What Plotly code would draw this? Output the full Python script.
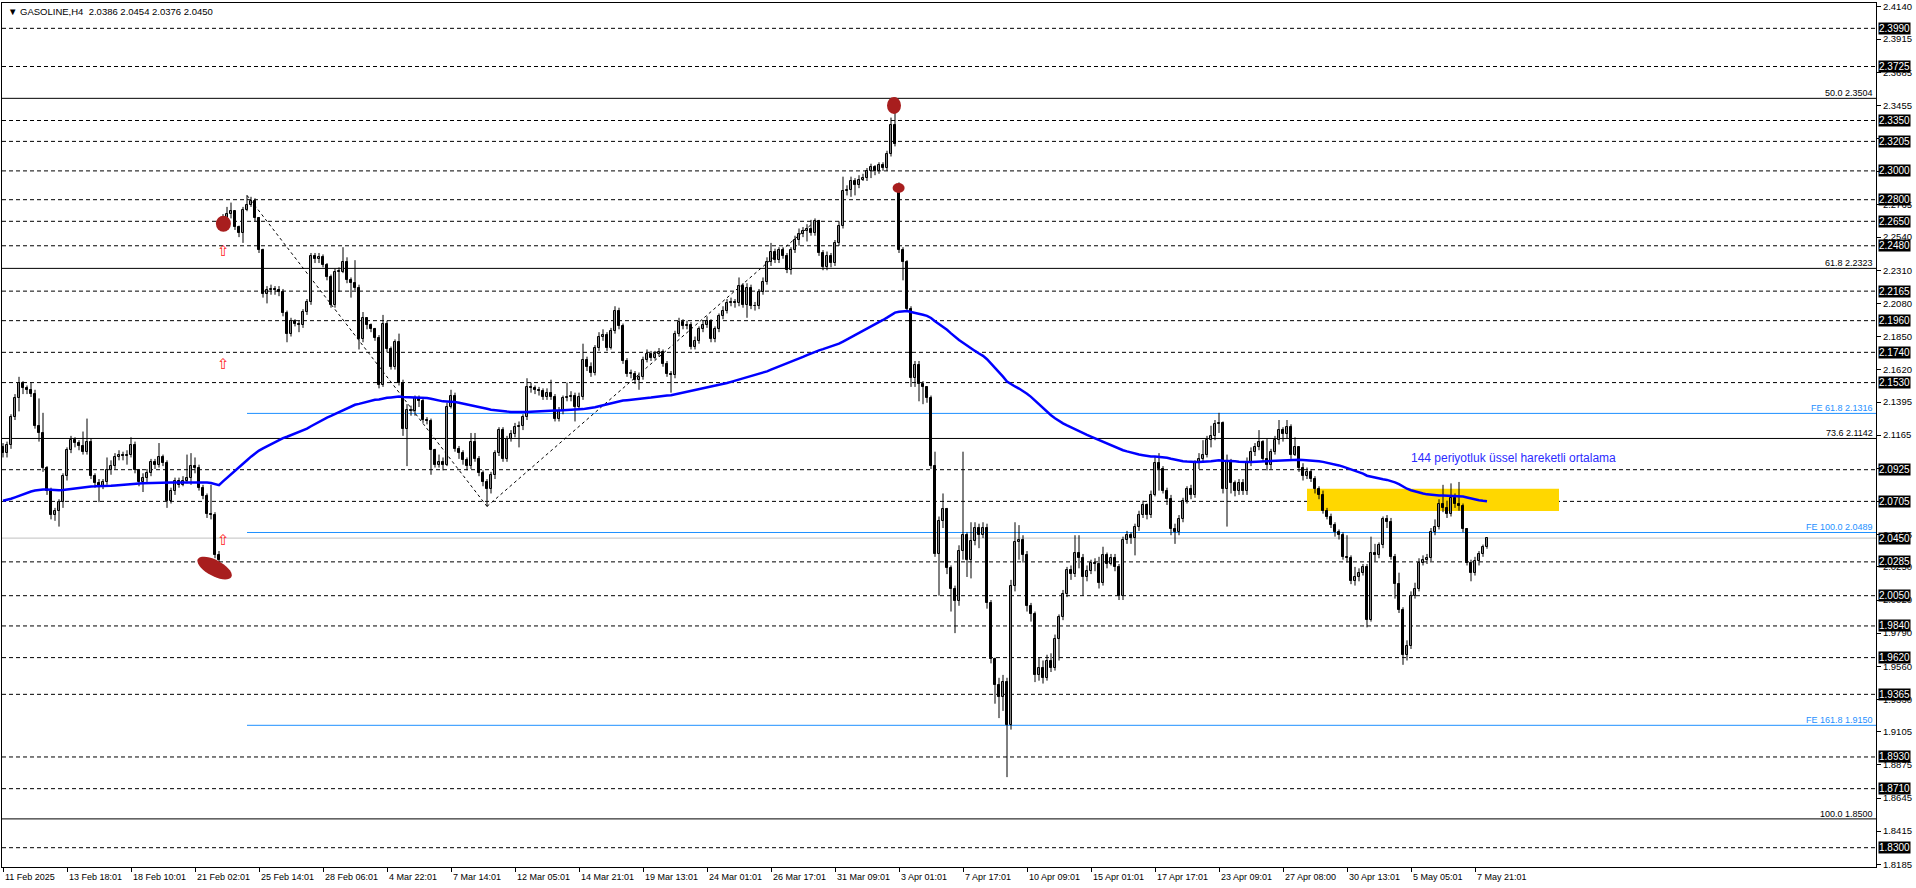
import plotly.graph_objects as go
import math

# ---------------- data ----------------
symbol_header = "\u25BC GASOLINE,H4  2.0386 2.0454 2.0376 2.0450"

first_open = 2.108
gap_opens = {55: 2.266, 224: 2.290}

closes = [
    2.104, 2.110, 2.129, 2.142, 2.153, 2.149, 2.148, 2.145, 2.123, 2.118,
    2.094, 2.078, 2.061, 2.064, 2.070, 2.088, 2.106, 2.113, 2.111, 2.109,
    2.105, 2.112, 2.088, 2.083, 2.081, 2.084, 2.092, 2.095, 2.101, 2.103,
    2.102, 2.103, 2.110, 2.092, 2.084, 2.087, 2.090, 2.098, 2.096, 2.101,
    2.097, 2.071, 2.078, 2.085, 2.082, 2.085, 2.087, 2.095, 2.094, 2.080,
    2.074, 2.062, 2.061, 2.033, 2.030, 2.267, 2.270, 2.272, 2.261, 2.257,
    2.273, 2.276, 2.279, 2.267, 2.245, 2.2145, 2.217, 2.218, 2.217, 2.216,
    2.201, 2.187, 2.196, 2.194, 2.193, 2.202, 2.209, 2.241, 2.239, 2.240,
    2.235, 2.226, 2.207, 2.230, 2.230, 2.237, 2.224, 2.222, 2.219, 2.183,
    2.198, 2.193, 2.190, 2.184, 2.151, 2.194, 2.176, 2.164, 2.181, 2.153,
    2.121, 2.134, 2.133, 2.142, 2.140, 2.127, 2.126, 2.106, 2.096, 2.098,
    2.096, 2.136, 2.144, 2.107, 2.104, 2.099, 2.095, 2.112, 2.100, 2.090,
    2.084, 2.079, 2.089, 2.104, 2.120, 2.100, 2.114, 2.117, 2.122, 2.123,
    2.129, 2.150, 2.149, 2.148, 2.147, 2.143, 2.146, 2.143, 2.128, 2.133,
    2.142, 2.143, 2.144, 2.136, 2.143, 2.169, 2.164, 2.160, 2.177, 2.185,
    2.186, 2.177, 2.189, 2.203, 2.192, 2.168, 2.159, 2.159, 2.155, 2.157,
    2.169, 2.173, 2.170, 2.173, 2.174, 2.166, 2.159, 2.158, 2.187, 2.195,
    2.192, 2.193, 2.178, 2.182, 2.190, 2.193, 2.196, 2.183, 2.190, 2.199,
    2.203, 2.208, 2.209, 2.208, 2.220, 2.207, 2.219, 2.206, 2.206, 2.216,
    2.223, 2.237, 2.244, 2.238, 2.245, 2.241, 2.231, 2.245, 2.252, 2.256,
    2.258, 2.260, 2.257, 2.265, 2.243, 2.233, 2.241, 2.236, 2.250, 2.262,
    2.286, 2.287, 2.293, 2.290, 2.294, 2.295, 2.300, 2.303, 2.300, 2.304,
    2.302, 2.312, 2.332, 2.319, 2.245, 2.237, 2.204, 2.156, 2.165, 2.152,
    2.150, 2.142, 2.095, 2.034, 2.057, 2.065, 2.024, 2.010, 2.001, 2.036,
    2.047, 2.030, 2.043, 2.052, 2.047, 2.052, 2.000, 1.961, 1.943, 1.935,
    1.945, 1.915, 2.012, 2.042, 2.044, 2.033, 1.998, 1.992, 1.950, 1.955,
    1.948, 1.960, 1.955, 1.975, 1.990, 2.006, 2.023, 2.020, 2.035, 2.031,
    2.018, 2.022, 2.028, 2.027, 2.014, 2.033, 2.027, 2.031, 2.025, 2.005,
    2.044, 2.047, 2.045, 2.053, 2.061, 2.068, 2.061, 2.075, 2.097, 2.093,
    2.078, 2.072, 2.051, 2.049, 2.058, 2.071, 2.079, 2.075, 2.097, 2.100,
    2.103, 2.113, 2.116, 2.124, 2.125, 2.079, 2.098, 2.083, 2.078, 2.083,
    2.078, 2.098, 2.105, 2.108, 2.112, 2.100, 2.096, 2.105, 2.113, 2.120,
    2.117, 2.122, 2.103, 2.108, 2.094, 2.088, 2.091, 2.086, 2.079, 2.075,
    2.064, 2.060, 2.054, 2.049, 2.047, 2.032, 2.031, 2.015, 2.018, 2.021,
    2.025, 1.988, 2.035, 2.033, 2.040, 2.058, 2.056, 2.032, 2.013, 1.995,
    1.964, 1.970, 2.005, 2.010, 2.028, 2.030, 2.031, 2.049, 2.053, 2.069,
    2.066, 2.062, 2.073, 2.069, 2.067, 2.051, 2.028, 2.021, 2.029, 2.034,
    2.0386, 2.0450,
]

highs = [
    2.111, 2.112, 2.131, 2.145, 2.157, 2.154, 2.151, 2.153, 2.148, 2.142,
    2.132, 2.095, 2.080, 2.066, 2.072, 2.090, 2.108, 2.116, 2.115, 2.113,
    2.119, 2.128, 2.114, 2.090, 2.086, 2.086, 2.101, 2.099, 2.104, 2.106,
    2.105, 2.106, 2.115, 2.112, 2.093, 2.090, 2.093, 2.100, 2.100, 2.111,
    2.103, 2.099, 2.080, 2.087, 2.087, 2.088, 2.103, 2.104, 2.101, 2.096,
    2.082, 2.076, 2.082, 2.063, 2.036, 2.270, 2.275, 2.278, 2.272, 2.262,
    2.275, 2.283, 2.282, 2.281, 2.268, 2.246, 2.220, 2.221, 2.220, 2.220,
    2.218, 2.203, 2.198, 2.197, 2.196, 2.204, 2.211, 2.243, 2.243, 2.243,
    2.242, 2.236, 2.228, 2.232, 2.233, 2.247, 2.240, 2.226, 2.238, 2.221,
    2.202, 2.198, 2.194, 2.191, 2.186, 2.200, 2.196, 2.178, 2.183, 2.187,
    2.155, 2.138, 2.137, 2.144, 2.144, 2.143, 2.129, 2.128, 2.107, 2.103,
    2.101, 2.139, 2.148, 2.146, 2.109, 2.106, 2.101, 2.118, 2.118, 2.102,
    2.092, 2.086, 2.091, 2.106, 2.122, 2.122, 2.116, 2.120, 2.125, 2.126,
    2.131, 2.156, 2.153, 2.151, 2.150, 2.149, 2.149, 2.155, 2.145, 2.136,
    2.144, 2.153, 2.147, 2.146, 2.146, 2.180, 2.171, 2.167, 2.179, 2.188,
    2.190, 2.188, 2.191, 2.206, 2.205, 2.194, 2.170, 2.162, 2.161, 2.160,
    2.171, 2.176, 2.175, 2.175, 2.177, 2.176, 2.168, 2.161, 2.189, 2.198,
    2.197, 2.196, 2.195, 2.185, 2.192, 2.196, 2.199, 2.197, 2.192, 2.201,
    2.206, 2.211, 2.212, 2.211, 2.226, 2.222, 2.222, 2.221, 2.209, 2.218,
    2.226, 2.240, 2.250, 2.246, 2.247, 2.247, 2.243, 2.247, 2.255, 2.260,
    2.261, 2.263, 2.266, 2.267, 2.266, 2.245, 2.244, 2.243, 2.252, 2.265,
    2.296, 2.290, 2.296, 2.295, 2.297, 2.298, 2.302, 2.305, 2.304, 2.306,
    2.306, 2.314, 2.337, 2.351, 2.292, 2.247, 2.238, 2.206, 2.168, 2.168,
    2.154, 2.150, 2.144, 2.105, 2.060, 2.076, 2.066, 2.026, 2.012, 2.040,
    2.105, 2.049, 2.056, 2.056, 2.055, 2.056, 2.055, 2.002, 1.962, 1.948,
    1.950, 1.948, 2.016, 2.056, 2.054, 2.047, 2.036, 2.000, 1.994, 1.962,
    1.960, 1.964, 1.965, 1.978, 1.992, 2.009, 2.025, 2.026, 2.047, 2.047,
    2.034, 2.026, 2.030, 2.031, 2.032, 2.039, 2.035, 2.034, 2.034, 2.027,
    2.046, 2.050, 2.049, 2.055, 2.064, 2.071, 2.069, 2.078, 2.102, 2.104,
    2.095, 2.080, 2.075, 2.055, 2.061, 2.073, 2.081, 2.082, 2.099, 2.104,
    2.113, 2.116, 2.123, 2.127, 2.132, 2.126, 2.103, 2.100, 2.085, 2.086,
    2.086, 2.101, 2.108, 2.111, 2.120, 2.113, 2.114, 2.107, 2.116, 2.127,
    2.122, 2.127, 2.124, 2.115, 2.108, 2.097, 2.094, 2.093, 2.088, 2.081,
    2.078, 2.066, 2.062, 2.056, 2.051, 2.049, 2.047, 2.033, 2.025, 2.024,
    2.027, 2.027, 2.046, 2.041, 2.042, 2.060, 2.061, 2.059, 2.034, 2.021,
    1.997, 1.974, 2.008, 2.014, 2.031, 2.033, 2.034, 2.052, 2.058, 2.072,
    2.082, 2.071, 2.083, 2.076, 2.084, 2.069, 2.052, 2.030, 2.032, 2.036,
    2.0405, 2.0454,
]

lows = [
    2.101, 2.101, 2.107, 2.127, 2.133, 2.145, 2.145, 2.143, 2.121, 2.112,
    2.091, 2.075, 2.058, 2.057, 2.053, 2.066, 2.085, 2.104, 2.108, 2.106,
    2.103, 2.103, 2.086, 2.080, 2.070, 2.079, 2.082, 2.089, 2.093, 2.099,
    2.099, 2.096, 2.101, 2.090, 2.081, 2.077, 2.084, 2.088, 2.093, 2.094,
    2.095, 2.066, 2.069, 2.075, 2.080, 2.081, 2.083, 2.082, 2.090, 2.078,
    2.072, 2.059, 2.058, 2.031, 2.022, 2.262, 2.264, 2.267, 2.259, 2.254,
    2.250, 2.272, 2.275, 2.265, 2.243, 2.212, 2.208, 2.214, 2.214, 2.213,
    2.199, 2.181, 2.185, 2.192, 2.188, 2.191, 2.200, 2.207, 2.236, 2.236,
    2.233, 2.224, 2.205, 2.205, 2.216, 2.229, 2.222, 2.212, 2.217, 2.176,
    2.181, 2.190, 2.188, 2.182, 2.149, 2.150, 2.174, 2.162, 2.162, 2.151,
    2.116, 2.095, 2.130, 2.130, 2.136, 2.125, 2.124, 2.089, 2.094, 2.094,
    2.092, 2.095, 2.135, 2.105, 2.100, 2.096, 2.092, 2.093, 2.098, 2.088,
    2.081, 2.067, 2.076, 2.086, 2.102, 2.098, 2.098, 2.112, 2.115, 2.108,
    2.120, 2.127, 2.146, 2.145, 2.144, 2.141, 2.141, 2.141, 2.126, 2.126,
    2.131, 2.140, 2.140, 2.126, 2.134, 2.141, 2.161, 2.157, 2.158, 2.175,
    2.182, 2.175, 2.176, 2.187, 2.190, 2.166, 2.157, 2.156, 2.152, 2.148,
    2.155, 2.167, 2.168, 2.169, 2.171, 2.164, 2.157, 2.146, 2.156, 2.185,
    2.190, 2.190, 2.176, 2.176, 2.180, 2.188, 2.191, 2.181, 2.181, 2.188,
    2.197, 2.201, 2.206, 2.205, 2.206, 2.205, 2.198, 2.204, 2.203, 2.204,
    2.214, 2.221, 2.234, 2.236, 2.236, 2.239, 2.229, 2.228, 2.243, 2.248,
    2.254, 2.251, 2.255, 2.255, 2.241, 2.231, 2.231, 2.233, 2.234, 2.248,
    2.260, 2.283, 2.282, 2.283, 2.288, 2.293, 2.293, 2.295, 2.297, 2.298,
    2.300, 2.300, 2.310, 2.317, 2.243, 2.224, 2.202, 2.150, 2.150, 2.140,
    2.138, 2.139, 2.093, 2.032, 2.005, 2.052, 2.020, 1.994, 1.979, 1.998,
    2.030, 2.018, 2.017, 2.040, 2.038, 2.045, 1.996, 1.958, 1.930, 1.920,
    1.925, 1.879, 1.912, 2.008, 2.030, 2.028, 1.994, 1.987, 1.945, 1.946,
    1.944, 1.946, 1.952, 1.953, 1.960, 1.988, 2.004, 2.016, 2.018, 2.024,
    2.005, 2.015, 2.020, 2.022, 2.010, 2.012, 2.024, 2.026, 2.022, 2.002,
    2.002, 2.041, 2.041, 2.033, 2.050, 2.059, 2.058, 2.059, 2.074, 2.078,
    2.076, 2.068, 2.047, 2.041, 2.047, 2.056, 2.069, 2.072, 2.073, 2.093,
    2.098, 2.101, 2.108, 2.113, 2.118, 2.076, 2.053, 2.076, 2.074, 2.075,
    2.075, 2.075, 2.095, 2.102, 2.106, 2.098, 2.092, 2.093, 2.103, 2.110,
    2.112, 2.114, 2.100, 2.102, 2.091, 2.085, 2.086, 2.084, 2.076, 2.072,
    2.062, 2.058, 2.052, 2.046, 2.044, 2.030, 2.028, 2.013, 2.012, 2.015,
    2.019, 1.983, 1.987, 2.029, 2.031, 2.038, 2.052, 2.030, 2.003, 1.993,
    1.957, 1.960, 1.968, 2.003, 2.008, 2.026, 2.027, 2.029, 2.047, 2.051,
    2.063, 2.059, 2.060, 2.066, 2.064, 2.049, 2.026, 2.015, 2.019, 2.026,
    2.0320, 2.0376,
]

ema_period = 144
ema_start = 2.071

date_labels = ["11 Feb 2025", "13 Feb 18:01", "18 Feb 10:01", "21 Feb 02:01", "25 Feb 14:01",
               "28 Feb 06:01", "4 Mar 22:01", "7 Mar 14:01", "12 Mar 05:01", "14 Mar 21:01",
               "19 Mar 13:01", "24 Mar 01:01", "26 Mar 17:01", "31 Mar 09:01", "3 Apr 01:01",
               "7 Apr 17:01", "10 Apr 09:01", "15 Apr 01:01", "17 Apr 17:01", "23 Apr 09:01",
               "27 Apr 08:00", "30 Apr 13:01", "5 May 05:01", "7 May 21:01"]
bars_per_label = 16

price_ticks = [2.4140, 2.3915, 2.3685, 2.3455, 2.3225, 2.2995, 2.2765, 2.2540, 2.2310, 2.2080,
               2.1850, 2.1620, 2.1395, 2.1165, 2.0935, 2.0705, 2.0475, 2.0250, 2.0020, 1.9790,
               1.9560, 1.9330, 1.9105, 1.8875, 1.8645, 1.8415, 1.8185]

hline_levels = [2.3990, 2.3725, 2.3350, 2.3205, 2.3000, 2.2800, 2.2650, 2.2480, 2.2165, 2.1960,
                2.1740, 2.1530, 2.0925, 2.0705, 2.0285, 2.0050, 1.9840, 1.9620, 1.9365, 1.8930,
                1.8710, 1.8300]
bid_price = 2.0450

fibo_levels = [50.0, 61.8, 73.6, 100.0]
fibo_prices = [2.3504, 2.2323, 2.1142, 1.8500]
fe_levels = [61.8, 100.0, 161.8]
fe_prices = [2.1316, 2.0489, 1.9150]
fe_points_bar = [61, 121, 203]
fe_points_price = [2.283, 2.067, 2.265]

zone_bars = [326, 389]
zone_prices = [2.0639, 2.0792]

ema_label = "144 periyotluk üssel hareketli ortalama"
ema_label_pos = (351.5, 2.1006)

arrow_bar = 55
arrow_prices = [2.2444, 2.1659, 2.0437]

# red marks: (bar, price, width px, height px, tilt deg)
red_marks = [(55.1, 2.2633, 15, 16, 0), (222.75, 2.3454, 14, 17, 0),
             (223.9, 2.2881, 12, 10, 0), (52.9, 2.0242, 38, 16, -28)]

# ---------------- styles ----------------
FONT = "Liberation Sans"
BLUE_FE = "#1E90FF"
EMA_BLUE = "#0000FF"
RED_MARK = "#A81E1E"

# ---------------- build ----------------
n = len(closes)
bars = list(range(n))
opens = [first_open] + closes[:-1]
for k, v in gap_opens.items():
    opens[k] = v
hi = [max(h, o, c) for h, o, c in zip(highs, opens, closes)]
lo = [min(l, o, c) for l, o, c in zip(lows, opens, closes)]

alpha = 2.0 / (ema_period + 1)
ema = [ema_start]
for c in closes[1:]:
    ema.append(ema[-1] + alpha * (c - ema[-1]))

x_range = [-0.25, 468.25]

fig = go.Figure()

wx, wy = [], []
for i in bars:
    wx += [i, i, None]
    wy += [lo[i], hi[i], None]
fig.add_trace(go.Scatter(x=wx, y=wy, mode="lines", line=dict(color="black", width=1),
                         hoverinfo="skip"))

body_base = [min(o, c) for o, c in zip(opens, closes)]
body_h = [max(abs(c - o), 0.0005) for o, c in zip(opens, closes)]
body_col = ["white" if c >= o else "black" for o, c in zip(opens, closes)]
fig.add_trace(go.Bar(x=bars, y=body_h, base=body_base, width=0.5,
                     marker=dict(color=body_col, line=dict(color="black", width=1))))

fig.add_trace(go.Scatter(x=bars, y=ema, mode="lines", line=dict(color=EMA_BLUE, width=2.5)))

shapes = []
shapes.append(dict(type="rect", xref="x", yref="y", x0=zone_bars[0], x1=zone_bars[1],
                   y0=zone_prices[0], y1=zone_prices[1], fillcolor="#FFD700",
                   line=dict(width=0), layer="below"))
for lv in hline_levels:
    shapes.append(dict(type="line", xref="paper", yref="y", x0=0, x1=1, y0=lv, y1=lv,
                       line=dict(color="black", width=1, dash="4px,3px"), layer="below"))
shapes.append(dict(type="line", xref="paper", yref="y", x0=0, x1=1, y0=bid_price, y1=bid_price,
                   line=dict(color="#C0C0C0", width=1), layer="below"))
for p in fibo_prices:
    shapes.append(dict(type="line", xref="paper", yref="y", x0=0, x1=1, y0=p, y1=p,
                       line=dict(color="black", width=1), layer="below"))
for p in fe_prices:
    shapes.append(dict(type="line", xref="x", yref="y", x0=fe_points_bar[0], x1=x_range[1],
                       y0=p, y1=p, line=dict(color=BLUE_FE, width=1), layer="below"))
for k in range(2):
    shapes.append(dict(type="line", xref="x", yref="y",
                       x0=fe_points_bar[k], x1=fe_points_bar[k + 1],
                       y0=fe_points_price[k], y1=fe_points_price[k + 1],
                       line=dict(color="black", width=1, dash="dot"), layer="below"))

for (bx, py, w, h, tilt) in red_marks:
    if tilt == 0:
        shapes.append(dict(type="circle", xref="x", yref="y", xsizemode="pixel", ysizemode="pixel",
                           xanchor=bx, yanchor=py, x0=-w / 2, x1=w / 2, y0=-h / 2, y1=h / 2,
                           fillcolor=RED_MARK, line=dict(width=0), layer="above"))
    else:
        a, b = w / 2, h / 2
        t = math.radians(tilt)
        pts = []
        for s in range(36):
            u = 2 * math.pi * s / 36
            ex, ey = a * math.cos(u), b * math.sin(u)
            pts.append((ex * math.cos(t) - ey * math.sin(t), ex * math.sin(t) + ey * math.cos(t)))
        path = "M " + " L ".join(f"{px:.2f},{py_:.2f}" for px, py_ in pts) + " Z"
        shapes.append(dict(type="path", xref="x", yref="y", xsizemode="pixel", ysizemode="pixel",
                           xanchor=bx, yanchor=py, path=path, fillcolor=RED_MARK,
                           line=dict(width=0), layer="above"))

# price-axis labels fully covered by a line's price box are not visible in the reference
box_levels = hline_levels + [bid_price]
tick_text = []
for v in price_ticks:
    covered = any(abs(v - b) < 0.0022 for b in box_levels)
    tick_text.append("" if covered else f"{v:.4f}")

ann = []
ann.append(dict(xref="paper", yref="paper", x=0, y=1, xanchor="left", yanchor="top",
                xshift=4, yshift=-1, text=symbol_header, showarrow=False,
                font=dict(family=FONT, size=9.5, color="black")))
for k, lab in enumerate(date_labels):
    ann.append(dict(xref="x", yref="paper", x=k * bars_per_label, y=0, xanchor="left",
                    yanchor="top", xshift=0, yshift=-3, text=lab, showarrow=False,
                    font=dict(family=FONT, size=9, color="black")))
for lv in box_levels:
    ann.append(dict(xref="paper", yref="y", x=1, y=lv, xanchor="left", yanchor="middle",
                    xshift=2, text=f"{lv:.4f}", showarrow=False, bgcolor="black",
                    borderpad=0, font=dict(family=FONT, size=10, color="white")))
for lvl, p in zip(fibo_levels, fibo_prices):
    ann.append(dict(xref="paper", yref="y", x=1, y=p, xanchor="right", yanchor="bottom",
                    xshift=-1, yshift=-2, text=f"{lvl:.1f} {p:.4f}", showarrow=False,
                    font=dict(family=FONT, size=9, color="black")))
for lvl, p in zip(fe_levels, fe_prices):
    ann.append(dict(xref="paper", yref="y", x=1, y=p, xanchor="right", yanchor="bottom",
                    xshift=-1, yshift=-2, text=f"FE {lvl:.1f} {p:.4f}", showarrow=False,
                    font=dict(family=FONT, size=9, color=BLUE_FE)))
ann.append(dict(xref="x", yref="y", x=ema_label_pos[0], y=ema_label_pos[1], xanchor="left",
                yanchor="middle", text=ema_label, showarrow=False,
                font=dict(family=FONT, size=12, color="#2B2BFF")))
for p in arrow_prices:
    ann.append(dict(xref="x", yref="y", x=arrow_bar, y=p, xanchor="center", yanchor="middle",
                    text="\u21E7", showarrow=False,
                    font=dict(family="DejaVu Sans", size=15, color="#FF2020")))

fig.update_layout(
    width=1916, height=888, margin=dict(l=2, r=40, t=3, b=21),
    paper_bgcolor="white", plot_bgcolor="white", showlegend=False,
    font=dict(family=FONT, size=9, color="black"),
    shapes=shapes, annotations=ann, bargap=0,
)
fig.update_xaxes(range=x_range, showgrid=False, zeroline=False, showline=True, mirror=True,
                 linecolor="black", linewidth=1, ticks="outside", ticklen=4, tickcolor="black",
                 tickvals=[k * bars_per_label for k in range(len(date_labels))],
                 showticklabels=False, fixedrange=True)
fig.update_yaxes(range=[1.8166, 2.4166], side="right", showgrid=False, zeroline=False,
                 showline=True, mirror=True, linecolor="black", linewidth=1, ticks="outside",
                 ticklen=4, tickcolor="black", tickvals=price_ticks, ticktext=tick_text,
                 tickfont=dict(family=FONT, size=9.5, color="black"), fixedrange=True)

fig.write_html("out.html", config={"displayModeBar": False},
               post_script="document.body.style.margin='0';")
